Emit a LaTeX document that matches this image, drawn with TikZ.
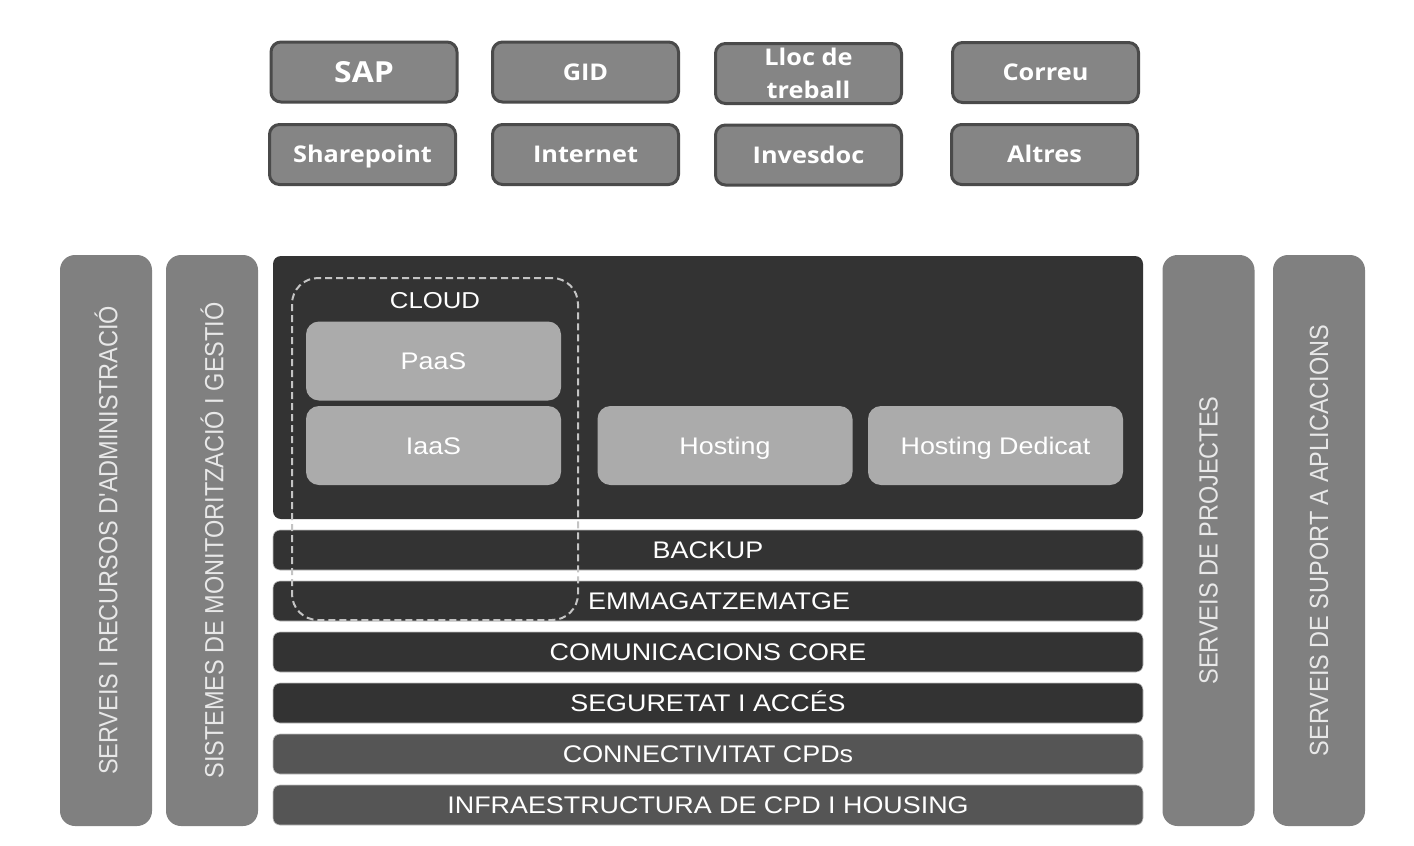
\documentclass[tikz,border=0pt]{standalone}
\usepackage{fontspec}
\usepackage{graphicx}
\newfontfamily\topfont[FakeStretch=1.1]{Open Sans}
\newfontfamily\armfont[FakeStretch=1.12]{Liberation Sans}
\newfontfamily\vertfont{Liberation Sans}
\definecolor{topfill}{HTML}{858585}
\definecolor{topline}{HTML}{4A4A4A}
\definecolor{sidefill}{HTML}{808080}
\definecolor{darkfill}{HTML}{333333}
\definecolor{midfill}{HTML}{555555}
\definecolor{lightbox}{HTML}{ABABAB}
\definecolor{dashcol}{HTML}{C4C4C4}
\definecolor{vtext}{HTML}{E8E8E8}
\begin{document}
\begin{tikzpicture}[x=1pt,y=-1pt,
  topbox/.style={draw=topline, line width=3pt, fill=topfill, rounded corners=10pt,
    minimum width=186pt, minimum height=60pt, inner sep=0pt, text=white, align=center,
    font=\topfont\bfseries\fontsize{23}{33}\selectfont},
  toplbl/.style={text=white, inner sep=0pt, text height=16.5pt, text depth=0pt,
    font=\topfont\bfseries\fontsize{23}{33}\selectfont},
  sidecol/.style={fill=sidefill, rounded corners=15pt, rotate=90,
    minimum width=571pt, minimum height=92pt, inner sep=0pt, text=vtext,
    font=\vertfont\fontsize{23.5}{26}\selectfont},
  band/.style={rounded corners=7pt, minimum width=870pt, minimum height=40pt, inner sep=0pt,
    draw=white!75!black, line width=0.6pt},
  bandtext/.style={text=white, font=\armfont\fontsize{24}{26}\selectfont, inner sep=0pt,
    text height=17pt, text depth=0pt},
  svc/.style={fill=lightbox, rounded corners=13pt, minimum width=255pt, minimum height=79pt,
    inner sep=0pt},
  svctext/.style={text=white, font=\armfont\fontsize{24}{26}\selectfont, inner sep=0pt,
    text height=17pt, text depth=0pt}
]
\useasboundingbox[fill=white] (0,0) rectangle (1414,846);

% top application boxes
\node[topbox] (sap) at (364,72) {};
\node[toplbl, font=\topfont\bfseries\fontsize{29}{31}\selectfont, text height=21pt] at (sap.center) {SAP};
\node[topbox] (gid) at (585.5,72) {};
\node[toplbl] at (gid.center) {GID};
\node[topbox] (lloc) at (808.5,73.5) {Lloc de\\treball};
\node[topbox] (correu) at (1045.5,72.5) {};
\node[toplbl] at (correu.center) {Correu};
\node[topbox] (share) at (362.5,154.5) {};
\node[toplbl] at (share.center) {Sharepoint};
\node[topbox] (internet) at (585.5,154.5) {};
\node[toplbl] at (internet.center) {Internet};
\node[topbox] (invesdoc) at (808.5,155) {};
\node[toplbl] at (invesdoc.center) {Invesdoc};
\node[topbox] (altres) at (1044.5,154.5) {};
\node[toplbl] at (altres.center) {Altres};

% side columns
\node[sidecol] (adm) at (106,540.5) {\scalebox{1}[1.12]{SERVEIS I RECURSOS D'ADMINISTRACIÓ}};
\node[sidecol] (mon) at (212,540.5) {\scalebox{1}[1.12]{SISTEMES DE MONITORITZACIÓ I GESTIÓ}};
\node[sidecol] (proj) at (1208.5,540.5) {\scalebox{1}[1.12]{SERVEIS DE PROJECTES}};
\node[sidecol] (suport) at (1319,540.5) {\scalebox{1}[1.12]{SERVEIS DE SUPORT A APLICACIONS}};

% big platform box
\node[fill=darkfill, rounded corners=8pt, minimum width=870pt, minimum height=263pt, inner sep=0pt] (plat) at (708,387.5) {};

% service boxes
\node[svc] (paas) at (433.5,361) {};
\node[svctext] at (paas.center) {PaaS};
\node[svc] (iaas) at (433.5,445.5) {};
\node[svctext] at (iaas.center) {IaaS};
\node[svc] (hosting) at (725,445.5) {};
\node[svctext] at (hosting.center) {Hosting};
\node[svc] (hded) at (995.5,445.5) {};
\node[svctext] at (hded.center) {Hosting Dedicat};

% bands
\node[band, fill=darkfill] (backup) at (708,550) {};
\node[bandtext] at (backup.center) {BACKUP};
\node[band, fill=darkfill] (emm) at (708,601) {};
\node[bandtext] at ([xshift=11pt]emm.center) {EMMAGATZEMATGE};
\node[band, fill=darkfill] (core) at (708,652) {};
\node[bandtext] at (core.center) {COMUNICACIONS CORE};
\node[band, fill=darkfill] (seg) at (708,703) {};
\node[bandtext] at (seg.center) {SEGURETAT I ACCÉS};
\node[band, fill=midfill] (conn) at (708,754) {};
\node[bandtext] at (conn.center) {CONNECTIVITAT CPDs};
\node[band, fill=midfill] (infra) at (708,805) {};
\node[bandtext] at (infra.center) {INFRAESTRUCTURA DE CPD I HOUSING};

% cloud dashed group
\node[draw=dashcol, line width=2pt, dash pattern=on 7pt off 4pt, rounded corners=26pt,
  minimum width=286pt, minimum height=342pt, inner sep=0pt] (cloud) at (435,449) {};
\node[text=white, font=\armfont\fontsize{23}{25}\selectfont, inner sep=0pt,
  text height=16.5pt, text depth=0pt] (cloudlbl) at (435,300) {CLOUD};
\end{tikzpicture}
\end{document}
